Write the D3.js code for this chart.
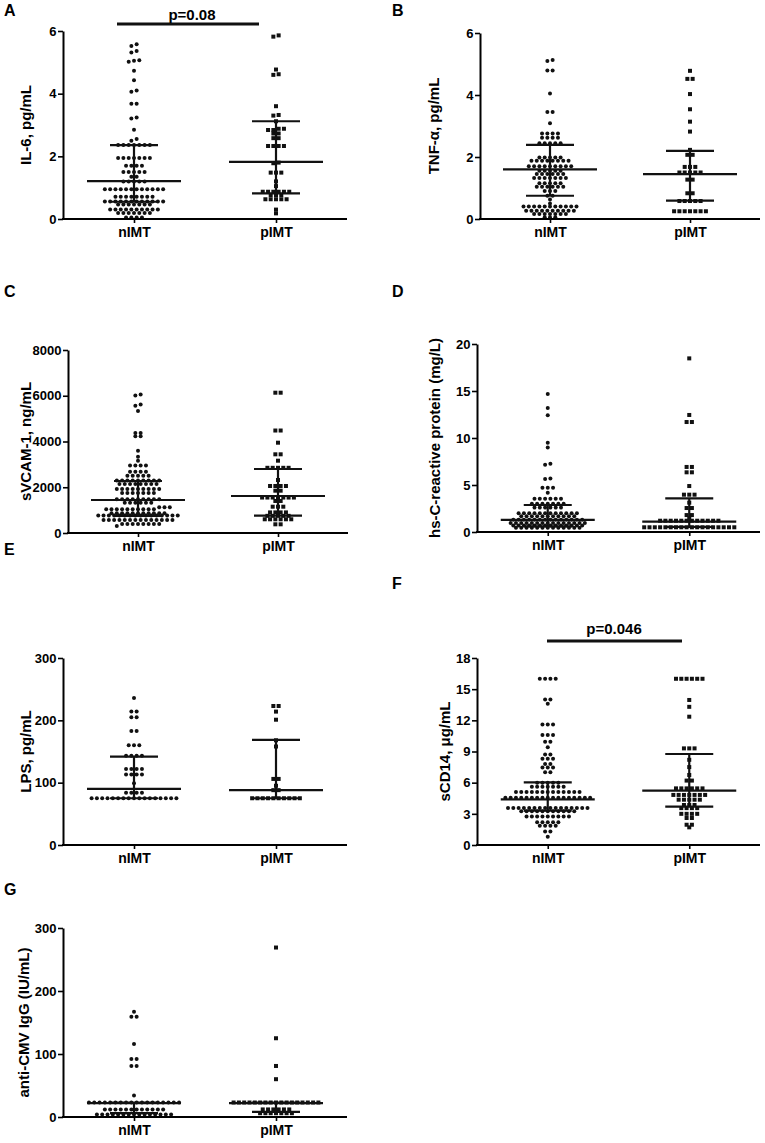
<!DOCTYPE html>
<html><head><meta charset="utf-8">
<script src="https://cdn.jsdelivr.net/npm/d3@7"></script>
<style>
body{margin:0;background:#fff}
svg{display:block;background:#fff}
text{font-family:"Liberation Sans",Arial,Helvetica,sans-serif;font-weight:bold;fill:#000}
</style>
</head><body>
<svg id="c" width="765" height="1143"></svg>
<script>
const categories = ["nIMT", "pIMT"];

// A: IL-6
const il6_ticks = [0, 2, 4, 6];
const il6_nIMT = [5.58,5.52,5.36,5.31,5.07,5.05,5.02,4.73,4.43,4.1,4.06,3.68,3.68,3.24,3.21,2.85,2.55,2.5,
2.36,2.36,2.36,2.36,2.36,2.36,2.36,
1.95,1.95,1.95,1.95,1.95,1.95,1.95,
1.7,1.7,1.7,1.7,
1.5,1.5,1.5,1.5,1.5,
1.35,1.35,
1.2,1.2,1.2,1.2,1.2,
0.95,0.95,0.95,0.95,0.95,0.95,0.95,0.95,0.95,0.95,0.95,0.95,
0.71,0.71,0.71,0.71,0.71,0.71,0.71,0.71,
0.56,0.56,0.56,0.56,0.56,0.56,0.56,0.56,0.56,0.56,0.56,0.56,
0.46,0.46,0.46,0.46,0.46,0.46,0.46,
0.3,0.3,0.3,0.3,0.3,0.3,0.3,0.3,0.3,0.3,
0.19,0.19,0.19,0.19,0.19,0.19,0.19,
0.05,0.05,0.05,0.05];
const il6_pIMT = [5.86,5.82,4.77,4.62,4.6,3.6,3.32,3.3,3.12,2.88,2.88,2.84,2.84,2.73,2.73,2.58,2.58,
2.33,2.33,2.33,2.33,1.8,1.78,1.48,1.48,1.48,1.2,1.05,
0.87,0.87,0.87,0.87,0.87,0.87,0.76,0.76,0.76,0.63,0.63,0.63,0.63,0.63,0.3,0.18];
const il6_median = [1.21, 1.82];
const il6_q1 = [0.55, 0.82];
const il6_q3 = [2.36, 3.12];

// B: TNF-alpha
const tnf_ticks = [0, 2, 4, 6];
const tnf_nIMT = [5.13,5.1,4.79,4.79,4.05,3.45,3.45,3.09,
2.76,2.76,2.76,2.76,
2.62,2.62,2.62,2.62,
2.44,2.44,2.44,2.44,2.44,
1.98,1.98,1.98,1.98,1.98,
1.88,1.88,1.88,1.88,1.88,1.88,1.88,1.88,
1.7,1.7,1.7,1.7,1.7,1.7,1.7,1.7,1.7,
1.56,1.56,1.56,1.56,1.56,
1.45,1.45,1.45,1.45,1.45,1.45,
1.32,1.32,1.32,1.32,1.32,1.32,1.32,
1.15,1.15,1.15,1.15,1.15,
1.04,1.04,1.04,1.04,1.04,1.04,
0.9,0.9,0.9,
0.75,0.75,
0.63,0.5,
0.4,0.4,0.4,0.4,0.4,0.4,0.4,0.4,0.4,0.4,0.4,
0.27,0.27,0.27,0.27,0.27,0.27,0.27,0.27,0.27,0.27,
0.16,0.16,0.16,0.16,0.16,0.16,0.16,
0.06,0.06,0.06];
const tnf_pIMT = [4.78,4.52,4.52,4.03,3.54,3.14,2.82,2.23,2.07,2.07,1.68,1.68,1.68,
1.5,1.5,1.5,1.5,1.5,1.27,1.27,0.83,0.83,0.58,0.58,0.58,0.58,0.58,
0.25,0.25,0.25,0.25,0.25,0.25,0.25];
const tnf_median = [1.6, 1.45];
const tnf_q1 = [0.75, 0.59];
const tnf_q3 = [2.39, 2.2];

// C: sVCAM-1
const svcam_ticks = [0, 2000, 4000, 6000, 8000];
const svcam_nIMT = [6060,6010,5620,5560,5333,4370,4370,4230,4230,3598,3336,3161,
2950,2950,2950,2950,
2680,2680,2680,2680,
2500,2500,2500,2500,2500,
2300,2300,2300,2300,2300,2300,2300,2300,2300,
2140,2140,2140,2140,2140,2140,2140,2140,
1920,1920,1920,1920,1920,1920,1920,1920,1920,
1750,1750,1750,1750,1750,1750,1750,
1480,1480,1480,1480,1480,1480,1480,1480,1480,
1325,1325,1325,1325,1325,1325,
1122,1122,1122,
1035,1035,1035,1035,1035,1035,1035,1035,1035,1035,
860,860,860,860,860,860,860,860,860,860,860,
760,760,760,760,760,760,760,760,760,760,760,760,760,760,760,760,
568,568,568,568,568,568,568,568,568,568,568,568,568,568,
393,393,393,393,393,393,393,393,
306];
const svcam_pIMT = [6133,6133,4480,4480,3948,3440,3440,3161,
2850,2850,2850,2850,2850,2317,2055,2055,2055,2055,1850,1850,
1550,1550,1550,1550,1550,1550,1550,1400,1400,1150,1150,1150,
900,900,900,900,750,750,750,750,750,600,600,600,600,600,600,380,380];
const svcam_median = [1443, 1617];
const svcam_q1 = [743, 758];
const svcam_q3 = [2273, 2798];

// D: hs-CRP
const crp_ticks = [0, 5, 10, 15, 20];
const crp_nIMT = [14.68,13.19,12.41,9.5,9.0,7.25,7.15,5.7,5.65,4.7,4.7,4.7,4.18,
3.54,3.54,3.54,3.54,3.54,3.54,
3.0,3.0,3.0,3.0,3.0,3.0,3.0,
2.6,2.6,2.6,2.6,2.6,2.6,
2.0,2.0,2.0,2.0,2.0,2.0,2.0,2.0,2.0,2.0,2.0,2.0,
1.67,1.67,1.67,1.67,1.67,1.67,1.67,1.67,1.67,1.67,1.67,
1.3,1.3,1.3,1.3,1.3,1.3,1.3,1.3,1.3,1.3,1.3,1.3,1.3,1.3,
0.95,0.95,0.95,0.95,0.95,0.95,0.95,0.95,0.95,0.95,0.95,0.95,0.95,0.95,0.95,
0.7,0.7,0.7,0.7,0.7,0.7,0.7,0.7,0.7,0.7,0.7,0.7,0.7,0.7,
0.45,0.45,0.45,0.45,0.45,0.45,0.45,0.45,0.45,0.45,0.45,0.45,0.45];
const crp_pIMT = [18.47,12.45,11.7,11.7,6.92,6.92,6.35,6.35,4.89,3.97,3.97,3.97,3.12,2.55,2.55,
1.8,1.8,1.45,
1.2,1.2,1.2,1.2,1.2,1.2,1.2,1.2,1.2,1.2,1.2,1.2,
0.5,0.5,0.5,0.5,0.5,0.5,0.5,0.5,0.5,0.5,0.5,0.5,0.5,0.5,0.5,0.5,0.5,0.5];
const crp_median = [1.28, 1.1];
const crp_q1 = [0.6, 0.55];
const crp_q3 = [2.87, 3.58];

// E: LPS
const lps_ticks = [0, 100, 200, 300];
const lps_nIMT = [236,214,214,205,205,183,183,160,160,160,143,143,143,143,
122,122,122,122,113,113,113,113,99,84,84,84,84,
75,75,75,75,75,75,75,75,75,75,75,75,75,75,75,75,75];
const lps_pIMT = [223,223,214,201,168,158,106,106,95,88,88,
75,75,75,75,75,75,75,75,75,75];
const lps_median = [90, 88];
const lps_q1 = [75, 75];
const lps_q3 = [141.7, 168.5];

// F: sCD14
const scd14_ticks = [0, 3, 6, 9, 12, 15, 18];
const scd14_nIMT = [16,16,16,16,14.0,14.0,13.6,11.6,11.6,11.6,10.6,10.6,10.6,9.95,9.95,9.4,
8.7,8.7,8.3,8.3,8.3,7.8,7.8,7.45,7.45,7.45,7.0,7.0,
6.0,6.0,6.0,6.0,6.0,
5.6,5.6,5.6,5.6,5.6,5.6,5.6,
5.1,5.1,5.1,5.1,5.1,5.1,5.1,5.1,5.1,5.1,5.1,5.1,5.1,
4.55,4.55,4.55,4.55,4.55,4.55,4.55,4.55,4.55,4.55,4.55,4.55,4.55,4.55,4.55,4.55,4.55,
3.55,3.55,3.55,3.55,3.55,3.55,3.55,3.55,3.55,3.55,3.55,3.55,3.55,3.55,3.55,3.55,
3.25,3.25,3.25,3.25,3.25,3.25,3.25,3.25,3.25,3.25,3.25,
2.75,2.75,2.75,2.75,2.75,2.75,2.75,2.75,2.75,
2.2,2.2,2.2,2.2,2.2,
1.85,1.85,1.85,1.85,
1.3,1.3,0.8];
const scd14_pIMT = [16,16,16,16,16,16,13.96,13.3,12.35,9.3,9.3,9.3,8.2,7.5,6.74,6.2,6.2,
5.45,5.45,5.45,5.45,5.45,5.45,
4.82,4.82,4.82,4.82,4.82,4.82,4.82,
4.36,4.36,4.36,4.36,4.36,
3.85,3.85,3.85,3.55,3.55,3.55,3.55,
3.0,3.0,3.0,3.0,2.6,2.6,1.95,1.95,1.7];
const scd14_median = [4.4, 5.23];
const scd14_q1 = [3.3, 3.69];
const scd14_q3 = [6.03, 8.76];

// G: anti-CMV IgG
const cmv_ticks = [0, 100, 200, 300];
const cmv_nIMT = [167,159,159,116,92,92,81,81,34,
23,23,23,23,23,23,23,23,23,23,23,23,23,23,23,23,23,23,
12,12,12,12,12,12,12,12,12,12,12,12,
4,4,4,4,4,4,4,4,4,4,4,4,4,4,4];
const cmv_pIMT = [269,125,81,60,
23,23,23,23,23,23,23,23,23,23,23,23,23,23,23,23,23,
12,12,12,12,12,12,
6,6,6,6,6,6,6];
const cmv_median = [22, 22];
const cmv_q1 = [6, 8];
const cmv_q3 = [23, 23];

const panels = [
  {letter:"A", lx:4, ly:16, x0:63, x1:347, y0:219, y1:31, ymax:6, ticks:il6_ticks, title:"IL-6, pg/mL", tx:26,
   n:il6_nIMT, p:il6_pIMT, med:il6_median, q1:il6_q1, q3:il6_q3, pv:{t:"p=0.08", xa:117, xb:259, y:24, tx:192, ty:20}},
  {letter:"B", lx:392, ly:16, x0:480, x1:760, y0:219, y1:33, ymax:6, ticks:tnf_ticks, title:"TNF-\u03b1, pg/mL", tx:434,
   n:tnf_nIMT, p:tnf_pIMT, med:tnf_median, q1:tnf_q1, q3:tnf_q3},
  {letter:"C", lx:4, ly:297, x0:68, x1:348, y0:533, y1:350, ymax:8000, ticks:svcam_ticks, title:"sVCAM-1, ng/mL", tx:26,
   n:svcam_nIMT, p:svcam_pIMT, med:svcam_median, q1:svcam_q1, q3:svcam_q3},
  {letter:"D", lx:392, ly:297, x0:477, x1:760, y0:532, y1:344, ymax:20, ticks:crp_ticks, title:"hs-C-reactive protein (mg/L)", tx:435,
   n:crp_nIMT, p:crp_pIMT, med:crp_median, q1:crp_q1, q3:crp_q3},
  {letter:"E", lx:4, ly:555, x0:63, x1:347, y0:845, y1:658, ymax:300, ticks:lps_ticks, title:"LPS, pg/mL", tx:26,
   n:lps_nIMT, p:lps_pIMT, med:lps_median, q1:lps_q1, q3:lps_q3},
  {letter:"F", lx:392, ly:589, x0:477, x1:760, y0:845, y1:658, ymax:18, ticks:scd14_ticks, title:"sCD14, \u03bcg/mL", tx:445,
   n:scd14_nIMT, p:scd14_pIMT, med:scd14_median, q1:scd14_q1, q3:scd14_q3, pv:{t:"p=0.046", xa:547, xb:682, y:641, tx:614, ty:634}},
  {letter:"G", lx:4, ly:895, x0:63, x1:347, y0:1117, y1:928, ymax:300, ticks:cmv_ticks, title:"anti-CMV IgG (IU/mL)", tx:24,
   n:cmv_nIMT, p:cmv_pIMT, med:cmv_median, q1:cmv_q1, q3:cmv_q3}
];

const svg = d3.select("#c");
const SP = 5.3;

function layoutRows(vals, y, cx) {
  const pts = vals.map(v => ({v, py: y(v)})).sort((a, b) => b.py - a.py);
  const rows = [];
  let cur = null;
  pts.forEach(p => {
    if (cur && Math.abs(p.py - cur[0].py) <= 2.1) cur.push(p);
    else { cur = [p]; rows.push(cur); }
  });
  const out = [];
  rows.forEach(r => r.forEach((p, i) => out.push({x: cx + (i - (r.length - 1) / 2) * SP, y: p.py})));
  return out;
}

panels.forEach(cfg => {
  const g = svg.append("g");
  const x = d3.scalePoint().domain(categories).range([cfg.x0, cfg.x1]).padding(0.5);
  const y = d3.scaleLinear().domain([0, cfg.ymax]).range([cfg.y0, cfg.y1]);

  // dots
  const nPts = layoutRows(cfg.n, y, x("nIMT"));
  g.append("g").selectAll("circle").data(nPts).join("circle")
    .attr("cx", d => d.x).attr("cy", d => d.y).attr("r", 2).attr("fill", "#111");
  const pPts = layoutRows(cfg.p, y, x("pIMT"));
  g.append("g").selectAll("rect").data(pPts).join("rect")
    .attr("x", d => d.x - 2).attr("y", d => d.y - 2).attr("width", 4).attr("height", 4).attr("fill", "#111");

  // median & IQR
  categories.forEach((c, i) => {
    const cx = x(c);
    const sg = g.append("g").attr("stroke", "#111").attr("stroke-width", 2.2);
    sg.append("line").attr("x1", cx).attr("x2", cx).attr("y1", y(cfg.q1[i])).attr("y2", y(cfg.q3[i]));
    sg.append("line").attr("x1", cx - 47).attr("x2", cx + 47).attr("y1", y(cfg.med[i])).attr("y2", y(cfg.med[i]));
    [cfg.q1[i], cfg.q3[i]].forEach(q => {
      sg.append("line").attr("x1", cx - 24).attr("x2", cx + 24).attr("y1", y(q)).attr("y2", y(q));
    });
  });

  // axes
  const ya = g.append("g").attr("transform", `translate(${cfg.x0},0)`)
    .call(d3.axisLeft(y).tickValues(cfg.ticks).tickSize(5).tickSizeOuter(0).tickPadding(1.5).tickFormat(d3.format("d")));
  ya.select(".domain").attr("stroke", "#000").attr("stroke-width", 2);
  ya.selectAll(".tick line").attr("stroke", "#000").attr("stroke-width", 1.6);
  ya.selectAll(".tick text").attr("font-size", 13).attr("font-family", '"Liberation Sans",Arial,sans-serif').attr("font-weight", "bold").attr("fill", "#000");

  const xa = g.append("g").attr("transform", `translate(0,${cfg.y0})`)
    .call(d3.axisBottom(x).tickSize(4).tickSizeOuter(0).tickPadding(4));
  xa.select(".domain").attr("stroke", "#000").attr("stroke-width", 2).attr("d", `M${cfg.x0 - 1},0H${cfg.x1}`);
  xa.selectAll(".tick line").attr("stroke", "#000").attr("stroke-width", 1.6);
  xa.selectAll(".tick text").attr("font-size", 14).attr("font-family", '"Liberation Sans",Arial,sans-serif').attr("font-weight", "bold").attr("fill", "#000");

  // title
  const cy = (cfg.y0 + cfg.y1) / 2;
  g.append("text").attr("transform", `translate(${cfg.tx + 5},${cy}) rotate(-90)`)
    .attr("text-anchor", "middle").attr("font-size", 15).text(cfg.title);

  // letter
  g.append("text").attr("x", cfg.lx).attr("y", cfg.ly).attr("font-size", 16).text(cfg.letter);

  // p-value
  if (cfg.pv) {
    g.append("line").attr("x1", cfg.pv.xa).attr("x2", cfg.pv.xb).attr("y1", cfg.pv.y).attr("y2", cfg.pv.y)
      .attr("stroke", "#111").attr("stroke-width", 3);
    g.append("text").attr("x", cfg.pv.tx).attr("y", cfg.pv.ty).attr("text-anchor", "middle")
      .attr("font-size", 15).text(cfg.pv.t);
  }
});
</script>
</body></html>
